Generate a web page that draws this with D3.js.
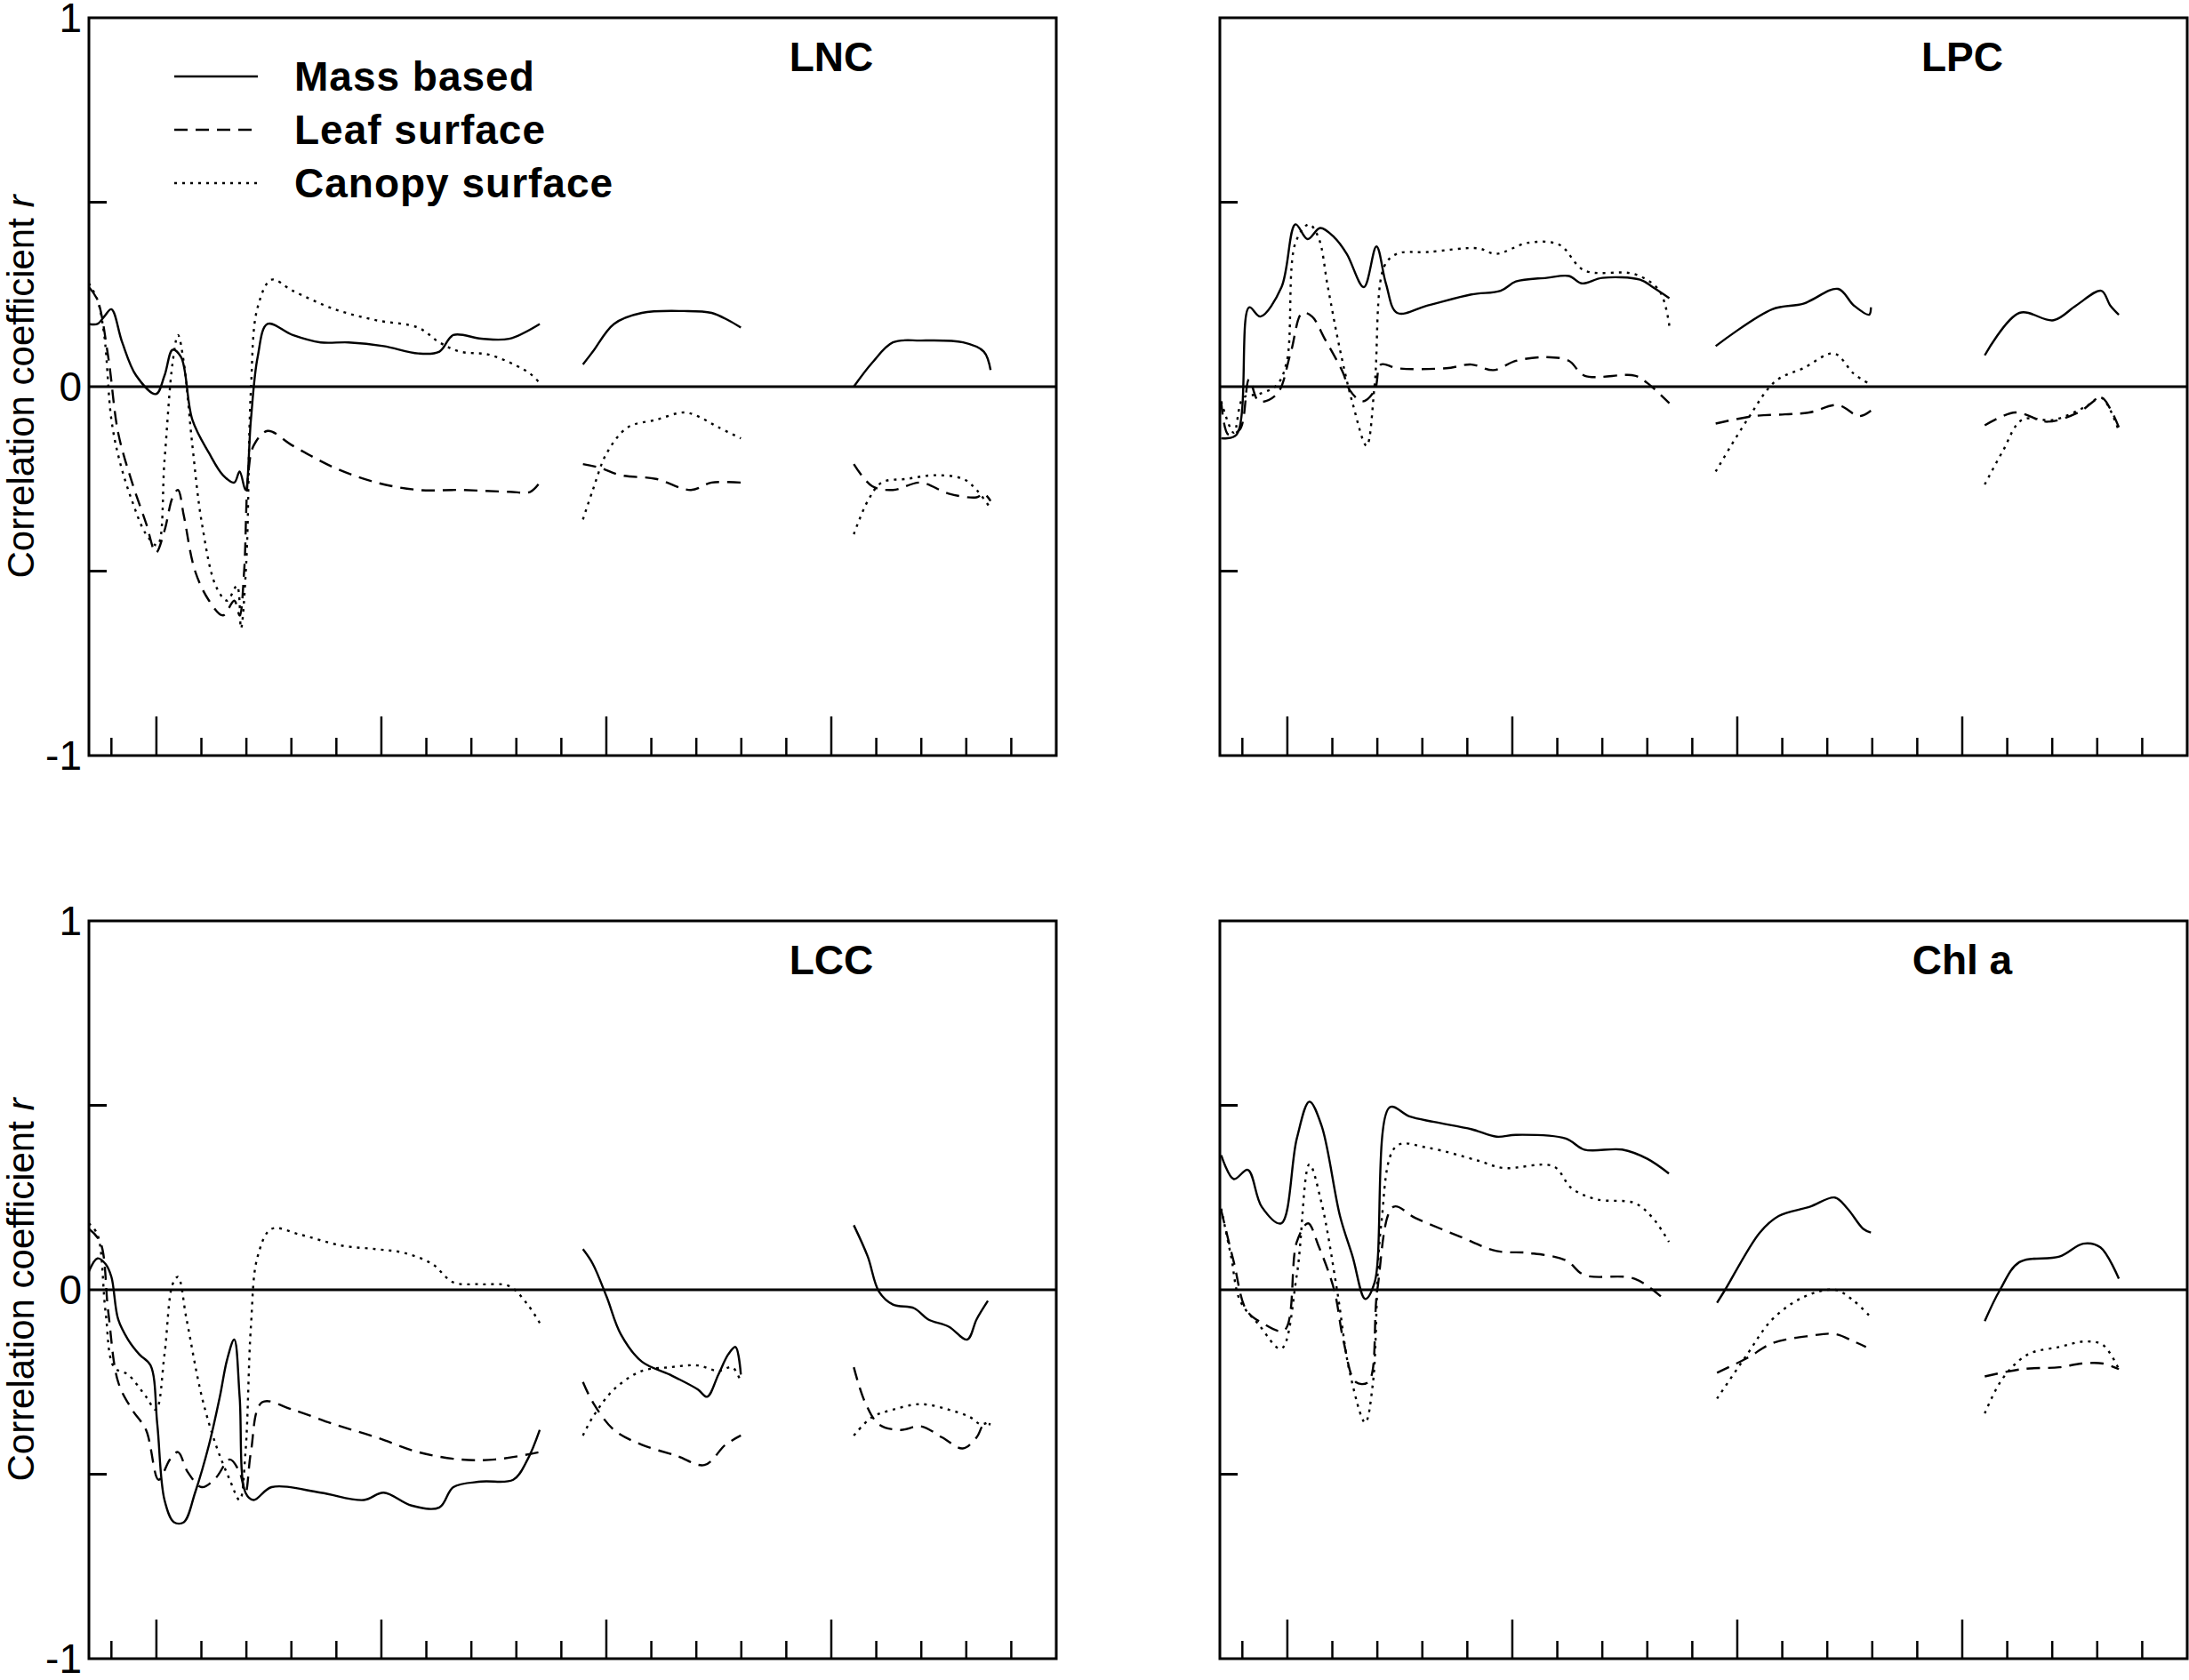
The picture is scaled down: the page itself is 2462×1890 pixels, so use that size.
<!DOCTYPE html>
<html><head><meta charset="utf-8">
<script src="https://cdn.jsdelivr.net/npm/d3@7"></script>
<style>body{margin:0;background:#fff}</style>
</head><body>
<svg id="chart" width="2462" height="1890"></svg>
<script>
// wavelength (nm), correlation r ; null = gap (water bands)
const lncMass = [[350,.17],[369,.17],[384,.19],[400,.21],[424,.12],[455,.03],[499,-.02],[518,.03],[536,.10],[555,.08],[580,-.09],[617,-.18],[648,-.24],[673,-.26],[685,-.23],[698,-.28],[710,-.09],[725,.08],[747,.17],[803,.14],[865,.12],[927,.12],[1005,.11],[1082,.09],[1129,.095],[1160,.14],[1222,.13],[1284,.13],[1352,.17],null,
  [1448,.06],[1470,.095],[1517,.17],[1579,.20],[1672,.205],[1734,.20],[1771,.18],[1799,.16],null,
  [2050,0],[2091,.065],[2137,.12],[2199,.125],[2293,.12],[2339,.095],[2354,.045]];
const lncLeaf = [[350,.27],[369,.235],[393,.08],[415,-.125],[446,-.26],[477,-.37],[499,-.45],[518,-.39],[536,-.30],[548,-.28],[561,-.35],[586,-.50],[617,-.58],[648,-.62],[673,-.58],[685,-.62],[695,-.50],[704,-.24],[716,-.16],[747,-.12],[803,-.16],[896,-.22],[989,-.26],[1082,-.28],[1175,-.28],[1284,-.285],[1331,-.285],[1352,-.26],null,
  [1448,-.21],[1486,-.22],[1532,-.24],[1610,-.25],[1688,-.28],[1734,-.26],[1799,-.26],null,
  [2050,-.21],[2091,-.27],[2137,-.28],[2199,-.26],[2261,-.29],[2323,-.30],[2339,-.29],[2354,-.31]];
const lncCanopy = [[350,.28],[369,.235],[384,.14],[400,-.09],[418,-.20],[446,-.31],[477,-.40],[502,-.43],[518,-.20],[536,.065],[548,.14],[561,.065],[580,-.16],[601,-.37],[632,-.54],[657,-.58],[679,-.54],[688,-.655],[700,-.47],[710,-.01],[725,.215],[756,.29],[803,.26],[896,.21],[989,.18],[1082,.16],[1129,.12],[1175,.095],[1238,.087],[1300,.057],[1331,.035],[1352,.01],null,
  [1448,-.36],[1470,-.28],[1501,-.18],[1548,-.11],[1610,-.09],[1672,-.07],[1703,-.08],[1749,-.11],[1799,-.14],null,
  [2050,-.40],[2081,-.31],[2112,-.26],[2168,-.25],[2230,-.24],[2293,-.25],[2323,-.28],[2354,-.33]];

const lpcMass = [[353,-.14],[387,-.13],[415,.215],[440,.19],[487,.27],[518,.44],[545,.40],[573,.43],[604,.405],[632,.36],[670,.27],[698,.38],[719,.28],[744,.20],[812,.22],[909,.25],[974,.26],[1008,.285],[1076,.295],[1126,.30],[1154,.28],[1200,.295],[1284,.29],[1312,.27],[1349,.24],null,
  [1452,.11],[1578,.21],[1647,.225],[1724,.265],[1759,.22],[1793,.195],[1797,.215],null,
  [2050,.085],[2127,.20],[2203,.18],[2253,.22],[2309,.26],[2329,.22],[2348,.195]];
const lpcLeaf = [[353,-.04],[369,-.13],[395,-.115],[415,.02],[437,-.04],[477,-.02],[507,.09],[533,.20],[555,.19],[583,.13],[623,.04],[639,-.01],[667,-.04],[694,-.01],[708,.06],[744,.05],[853,.05],[909,.06],[958,.045],[1008,.07],[1076,.08],[1126,.07],[1160,.03],[1272,.03],[1300,.01],[1349,-.045],null,
  [1452,-.10],[1535,-.08],[1606,-.075],[1660,-.07],[1724,-.05],[1771,-.08],[1797,-.065],null,
  [2050,-.105],[2118,-.07],[2189,-.095],[2258,-.07],[2309,-.03],[2329,-.06],[2348,-.11]];
const lpcCanopy = [[353,-.04],[381,-.125],[402,-.03],[437,-.02],[477,.005],[499,.07],[518,.39],[548,.44],[569,.405],[590,.27],[617,.10],[645,-.045],[676,-.16],[694,.005],[715,.325],[743,.36],[812,.365],[924,.375],[964,.36],[1035,.39],[1104,.385],[1160,.315],[1272,.305],[1327,.26],[1349,.165],null,
  [1452,-.23],[1522,-.09],[1585,.015],[1647,.05],[1715,.09],[1759,.035],[1797,.005],null,
  [2050,-.265],[2090,-.175],[2133,-.09],[2203,-.09],[2273,-.055],[2309,-.03],[2348,-.12]];

const lccMass = [[350,.05],[369,.085],[387,.07],[400,.035],[415,-.08],[437,-.135],[462,-.175],[487,-.205],[502,-.365],[518,-.57],[539,-.63],[561,-.63],[586,-.55],[617,-.42],[641,-.29],[657,-.19],[673,-.135],[685,-.29],[698,-.55],[716,-.57],[756,-.535],[865,-.55],[961,-.57],[1005,-.55],[1067,-.585],[1129,-.59],[1160,-.535],[1222,-.52],[1293,-.515],[1325,-.46],[1352,-.38],null,
  [1448,.11],[1470,.07],[1501,-.02],[1532,-.12],[1579,-.195],[1641,-.23],[1703,-.27],[1724,-.29],[1749,-.23],[1771,-.175],[1787,-.155],[1799,-.23],null,
  [2050,.175],[2081,.09],[2106,-.005],[2137,-.04],[2184,-.05],[2215,-.08],[2261,-.10],[2302,-.135],[2323,-.08],[2348,-.03]];
const lccLeaf = [[350,.165],[375,.13],[393,-.06],[415,-.25],[446,-.325],[477,-.38],[505,-.515],[530,-.46],[548,-.44],[570,-.495],[601,-.535],[632,-.51],[663,-.46],[685,-.495],[698,-.55],[710,-.44],[735,-.305],[803,-.325],[896,-.365],[989,-.40],[1082,-.44],[1175,-.46],[1253,-.46],[1352,-.44],null,
  [1448,-.25],[1470,-.305],[1517,-.38],[1579,-.42],[1656,-.45],[1718,-.475],[1765,-.42],[1799,-.395],null,
  [2050,-.21],[2075,-.305],[2106,-.365],[2153,-.38],[2199,-.37],[2246,-.40],[2292,-.43],[2323,-.40],[2339,-.365],[2354,-.365]];
const lccCanopy = [[350,.18],[369,.15],[387,-.06],[406,-.21],[437,-.23],[477,-.29],[499,-.325],[518,-.175],[536,.015],[548,.035],[567,-.08],[601,-.29],[632,-.42],[663,-.515],[685,-.57],[698,-.44],[710,-.10],[725,.09],[756,.165],[818,.15],[911,.12],[989,.11],[1051,.10],[1113,.07],[1160,.02],[1222,.015],[1284,.01],[1325,-.04],[1352,-.09],null,
  [1448,-.395],[1470,-.345],[1517,-.27],[1579,-.22],[1641,-.21],[1703,-.205],[1749,-.22],[1780,-.21],[1799,-.25],null,
  [2050,-.395],[2091,-.345],[2137,-.325],[2199,-.31],[2261,-.325],[2308,-.345],[2333,-.365],[2354,-.355]];

const chlMass = [[353,.365],[381,.30],[412,.325],[443,.225],[486,.18],[521,.41],[549,.51],[576,.445],[617,.20],[645,.09],[673,-.025],[694,.02],[728,.495],[771,.47],[826,.455],[910,.435],[965,.415],[1008,.42],[1119,.41],[1160,.38],[1244,.38],[1300,.355],[1348,.315],null,
  [1455,-.035],[1473,0],[1550,.155],[1592,.20],[1661,.225],[1717,.25],[1745,.22],[1780,.165],[1797,.155],null,
  [2050,-.085],[2084,0],[2127,.075],[2216,.09],[2269,.125],[2307,.115],[2348,.03]];
const chlLeaf = [[353,.215],[381,.075],[409,-.055],[444,-.09],[493,-.11],[521,.13],[546,.18],[569,.12],[604,0],[625,-.14],[652,-.25],[680,-.25],[700,0],[736,.225],[784,.195],[882,.145],[965,.105],[1035,.10],[1119,.08],[1160,.04],[1272,.03],[1341,-.03],null,
  [1455,-.225],[1522,-.185],[1578,-.145],[1661,-.125],[1717,-.12],[1759,-.14],[1786,-.155],null,
  [2050,-.235],[2133,-.215],[2216,-.21],[2265,-.20],[2313,-.20],[2348,-.215]];
const chlCanopy = [[353,.22],[375,.09],[395,-.03],[437,-.095],[486,-.16],[521,.04],[549,.34],[576,.235],[611,-.005],[638,-.22],[673,-.36],[690,-.255],[708,.17],[743,.39],[812,.385],[924,.35],[980,.33],[1091,.335],[1132,.275],[1188,.245],[1272,.235],[1312,.195],[1348,.13],null,
  [1455,-.295],[1522,-.175],[1578,-.08],[1647,-.02],[1717,0],[1759,-.03],[1797,-.075],null,
  [2050,-.335],[2090,-.24],[2146,-.175],[2216,-.155],[2273,-.14],[2313,-.15],[2348,-.215]];

const panels = [
  {title: "LNC",   left: 100,  top: 20,   series: [lncMass, lncLeaf, lncCanopy], yLabels: true, legend: true},
  {title: "LPC",   left: 1372, top: 20,   series: [lpcMass, lpcLeaf, lpcCanopy]},
  {title: "LCC",   left: 100,  top: 1036, series: [lccMass, lccLeaf, lccCanopy], yLabels: true},
  {title: "Chl a", left: 1372, top: 1036, series: [chlMass, chlLeaf, chlCanopy]}
];
const legendNames = ["Mass based", "Leaf surface", "Canopy surface"];
const dashes = [null, "15,9", "3,6"];
const minorTicks = d3.range(400, 2500, 100);

const W = 1088, H = 830;
const font = "Arial, Liberation Sans, sans-serif";
const svg = d3.select("#chart");
const x = d3.scaleLinear().domain([350, 2500]).range([0, W]);
const y = d3.scaleLinear().domain([-1, 1]).range([H, 0]);
const line = d3.line().defined(d => d !== null).x(d => x(d[0])).y(d => y(d[1]))
  .curve(d3.curveCatmullRom.alpha(0.5));

panels.forEach(p => {
  const g = svg.append("g").attr("transform", `translate(${p.left},${p.top})`);

  // zero line
  g.append("line").attr("x1", 0).attr("x2", W).attr("y1", y(0)).attr("y2", y(0))
    .attr("stroke", "#000").attr("stroke-width", 3);

  // x ticks, pointing up from bottom
  g.selectAll(".xt").data(minorTicks).join("line")
    .attr("x1", d => x(d)).attr("x2", d => x(d))
    .attr("y1", H).attr("y2", d => H - (d % 500 === 0 ? 44 : 20))
    .attr("stroke", "#000").attr("stroke-width", 2.5);

  // y ticks at +-0.5
  g.selectAll(".yt").data([0.5, -0.5]).join("line")
    .attr("x1", 0).attr("x2", 20).attr("y1", d => y(d)).attr("y2", d => y(d))
    .attr("stroke", "#000").attr("stroke-width", 3);

  p.series.forEach((s, i) => {
    g.append("path").datum(s).attr("d", line)
      .attr("fill", "none").attr("stroke", "#000").attr("stroke-width", 2.4)
      .attr("stroke-dasharray", dashes[i]);
  });

  g.append("rect").attr("width", W).attr("height", H)
    .attr("fill", "none").attr("stroke", "#000").attr("stroke-width", 3);

  g.append("text").attr("x", x(2000)).attr("y", 60).attr("text-anchor", "middle")
    .attr("font-family", font).attr("font-weight", "bold")
    .attr("font-size", 46).text(p.title);

  if (p.yLabels) {
    g.selectAll(".yl").data([1, 0, -1]).join("text")
      .attr("x", -8).attr("y", d => y(d) + 16).attr("text-anchor", "end")
      .attr("font-family", font).attr("font-size", 46)
      .text(d => d);
    const t = g.append("text").attr("transform", `translate(${-62},${H / 2}) rotate(-90)`)
      .attr("text-anchor", "middle").attr("font-family", font)
      .attr("font-size", 42);
    t.append("tspan").text("Correlation coefficient ");
    t.append("tspan").attr("font-style", "italic").text("r");
  }

  if (p.legend) {
    legendNames.forEach((n, i) => {
      const ly = 66 + i * 60;
      g.append("line").attr("x1", 96).attr("x2", 190).attr("y1", ly).attr("y2", ly)
        .attr("stroke", "#000").attr("stroke-width", 2.4).attr("stroke-dasharray", dashes[i]);
      g.append("text").attr("x", 231).attr("y", ly + 16)
        .attr("font-family", font).attr("font-weight", "bold")
        .attr("font-size", 46).attr("letter-spacing", 1).text(n);
    });
  }
});
</script>
</body></html>
